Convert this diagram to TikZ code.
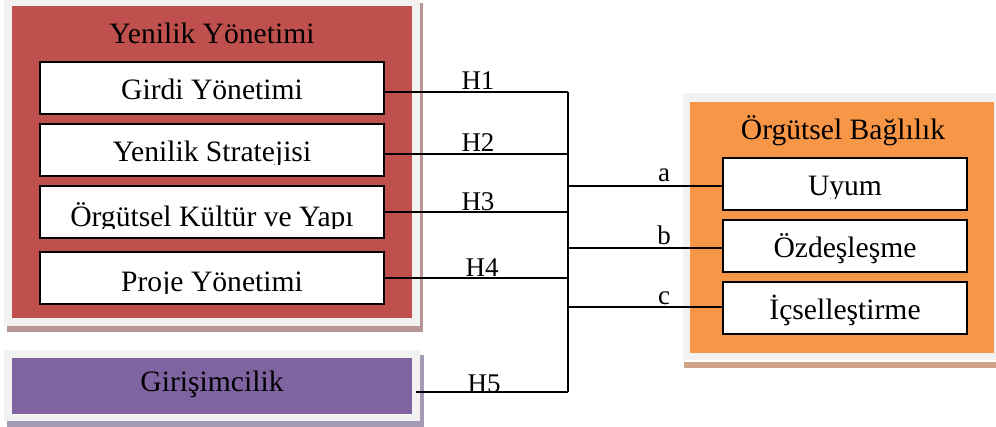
\documentclass[tikz,border=0pt]{standalone}
\usepackage{fontspec}
\setmainfont{Liberation Serif}
\begin{document}
\begin{tikzpicture}[x=0.5pt,y=-0.5pt,
  itembox/.style={draw=black,line width=1pt,fill=white,inner sep=0pt,
    minimum height=26pt},
  itemtext/.style={anchor=base,inner sep=0pt,font=\fontsize{14.8}{17}\selectfont},
  titletext/.style={anchor=base,inner sep=0pt,font=\fontsize{14.8}{17}\selectfont},
  hyp/.style={anchor=base,inner sep=0pt,font=\fontsize{13.5}{16}\selectfont},
  link/.style={draw=black,line width=0.75pt}]
\definecolor{frameGrey}{HTML}{F2F2F2}
\definecolor{redFill}{HTML}{C0504D}
\definecolor{redShade}{HTML}{B99696}
\definecolor{purpleFill}{HTML}{8064A2}
\definecolor{purpleShade}{HTML}{A59BB4}
\definecolor{orangeFill}{HTML}{F79646}
\definecolor{orangeShade}{HTML}{CDA586}
\useasboundingbox (0,0) rectangle (996,427);

% ---- Yenilik Yonetimi panel ----
\fill[redShade] (7,3) rectangle (423,332);
\fill[frameGrey] (4,0) rectangle (420,326);
\fill[redFill] (12,6) rectangle (412,318);
\node[titletext] (ytitle) at (212,44) {Yenilik Yönetimi};

\node[itembox,minimum width=172pt] (g1) at (212,88) {};
\node[itembox,minimum width=172pt] (g2) at (212,150) {};
\node[itembox,minimum width=172pt] (g3) at (212,212) {};
\node[itembox,minimum width=172pt] (g4) at (212,278) {};
\node[itemtext] (t1) at (212,100) {Girdi Yönetimi};
\begin{scope}
  \clip (40,124) rectangle (384,165);
  \node[itemtext] (t2) at (212,162) {Yenilik Stratejisi};
\end{scope}
\begin{scope}
  \clip (40,186) rectangle (384,229);
  \node[itemtext] (t3) at (212,227) {Örgütsel Kültür ve Yapı};
\end{scope}
\begin{scope}
  \clip (40,252) rectangle (384,294);
  \node[itemtext] (t4) at (212,292) {Proje Yönetimi};
\end{scope}

% ---- Girisimcilik panel ----
\fill[purpleShade] (7,355) rectangle (424,427);
\fill[frameGrey] (4,350) rectangle (420,421);
\fill[purpleFill] (12,358) rectangle (412,414);
\node[draw=none,minimum width=200pt,minimum height=28pt,inner sep=0pt] (gir) at (212,386) {};
\node[titletext] (tgir) at (212,391) {Girişimcilik};

% ---- Orgutsel Baglilik panel ----
\fill[orangeShade] (684,362) rectangle (996,368);
\fill[frameGrey] (683,93) rectangle (996,360);
\fill[orangeFill] (690,102) rectangle (994,353);
\node[titletext] (otitle) at (843,140) {Örgütsel Bağlılık};

\node[itembox,minimum width=122pt] (o1) at (845,184) {};
\node[itembox,minimum width=122pt] (o2) at (845,246.5) {};
\node[itembox,minimum width=122pt] (o3) at (845,308) {};
\begin{scope}
  \clip (723,158) rectangle (967,199);
  \node[itemtext] (u1) at (845,196) {Uyum};
\end{scope}
\node[itemtext] (u2) at (845,258) {Özdeşleşme};
\node[itemtext] (u3) at (845,320) {İçselleştirme};

% ---- connectors ----
\coordinate (busTop) at (568,92);
\coordinate (busBot) at (568,392);
\draw[link] (busTop) -- (busBot);
\draw[link] ([yshift=-2pt]g1.east) -- ([yshift=-2pt]g1.east -| busTop);
\draw[link] ([yshift=-2pt]g2.east) -- ([yshift=-2pt]g2.east -| busTop);
\draw[link] (g3.east) -- (g3.east -| busTop);
\draw[link] (g4.east) -- (g4.east -| busTop);
\draw[link] ([xshift=2pt,yshift=-3pt]gir.east) -- (busBot);
\draw[link] ([yshift=-1pt]o1.west -| busTop) -- ([yshift=-1pt]o1.west);
\draw[link] ([yshift=-0.75pt]o2.west -| busTop) -- ([yshift=-0.75pt]o2.west);
\draw[link] ([yshift=0.5pt]o3.west -| busTop) -- ([yshift=0.5pt]o3.west);

% ---- hypothesis labels ----
\node[hyp] (h1) at (478,90) {H1};
\node[hyp] (h2) at (478,152) {H2};
\node[hyp] (h3) at (478,211) {H3};
\node[hyp] (h4) at (482,277) {H4};
\node[hyp] (h5) at (484,392) {H5};
\node[hyp] (la) at (664,182) {a};
\node[hyp] (lb) at (664,245) {b};
\node[hyp] (lc) at (664,305) {c};
\end{tikzpicture}
\end{document}
